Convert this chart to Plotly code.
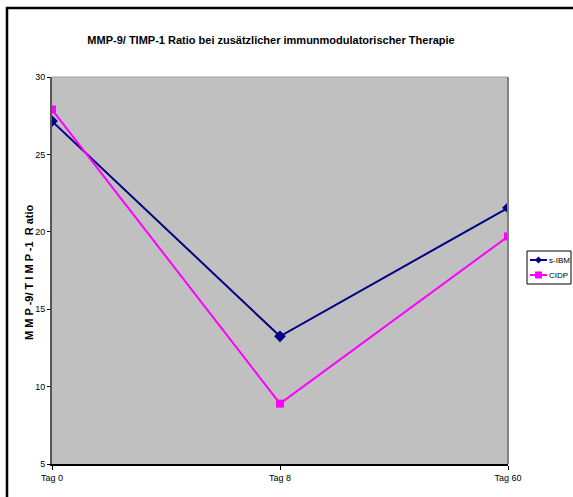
import plotly.graph_objects as go

categories = ["Tag 0", "Tag 8", "Tag 60"]
s_ibm = [27.15, 13.25, 21.55]
cidp = [27.9, 8.9, 19.7]
y_ticks = [5, 10, 15, 20, 25, 30]
series_names = ["s-IBM", "CIDP"]
series_colors = ["#000080", "#FF00FF"]

W, H = 573, 497
L, R, T, B = 52, 508, 77, 464
pw, ph = R - L, B - T

def px_x(x):
    return (x - L) / pw

def px_y(y):
    return (B - y) / ph

fig = go.Figure()
fig.add_trace(go.Scatter(x=categories, y=s_ibm, name=series_names[0], mode="lines+markers",
                         line=dict(color=series_colors[0], width=2),
                         marker=dict(symbol="diamond", size=9, color=series_colors[0])))
fig.add_trace(go.Scatter(x=categories, y=cidp, name=series_names[1], mode="lines+markers",
                         line=dict(color=series_colors[1], width=2),
                         marker=dict(symbol="square", size=8, color=series_colors[1])))

tickfont = dict(family="Liberation Sans Narrow, Arial Narrow, Liberation Sans, Arial", size=9, color="#000000")

shapes = [
    dict(type="rect", xref="paper", yref="paper",
         x0=px_x(7), x1=px_x(580), y0=px_y(8), y1=px_y(505),
         line=dict(color="#000000", width=2.5), fillcolor="rgba(0,0,0,0)", layer="above"),
    dict(type="line", xref="paper", yref="paper", x0=0, x1=1, y0=1, y1=1,
         line=dict(color="#A0A0A0", width=1)),
    dict(type="line", xref="paper", yref="paper", x0=1, x1=1, y0=0, y1=1,
         line=dict(color="#808080", width=2)),
    # custom legend box
    dict(type="rect", xref="paper", yref="paper",
         x0=px_x(527), x1=px_x(571), y0=px_y(251), y1=px_y(284),
         line=dict(color="#000000", width=1), fillcolor="white"),
]
annotations = [
    dict(text="<b>M M P -9/ T I M P -1  R atio</b>", xref="paper", yref="paper",
         x=px_x(29), y=px_y(272), textangle=-90, showarrow=False,
         xanchor="center", yanchor="middle",
         font=dict(family="Liberation Sans, Arial", size=11, color="#000000")),
]
# legend entries
for i, (nm, col) in enumerate(zip(series_names, series_colors)):
    yy = 260 + i * 15
    shapes.append(dict(type="line", xref="paper", yref="paper",
                       x0=px_x(530), x1=px_x(547), y0=px_y(yy), y1=px_y(yy),
                       line=dict(color=col, width=2)))
    cx, cy = 538.5, yy
    if i == 0:
        shapes.append(dict(type="path", xref="paper", yref="paper",
                           path=f"M {px_x(cx-3.5)} {px_y(cy)} L {px_x(cx)} {px_y(cy-3.5)} L {px_x(cx+3.5)} {px_y(cy)} L {px_x(cx)} {px_y(cy+3.5)} Z",
                           fillcolor=col, line=dict(color=col, width=0)))
    else:
        shapes.append(dict(type="rect", xref="paper", yref="paper",
                           x0=px_x(cx - 3.5), x1=px_x(cx + 3.5), y0=px_y(cy - 3.5), y1=px_y(cy + 3.5),
                           fillcolor=col, line=dict(color=col, width=0)))
    annotations.append(dict(text=nm, xref="paper", yref="paper", x=px_x(547), y=px_y(yy),
                            xanchor="left", yanchor="middle", showarrow=False,
                            font=dict(family="Liberation Sans Narrow, Arial Narrow, Liberation Sans, Arial",
                                      size=8, color="#000000")))

fig.update_layout(
    width=W, height=H,
    margin=dict(l=L, r=W - R, t=T, b=H - B, autoexpand=False),
    paper_bgcolor="white", plot_bgcolor="#C0C0C0",
    showlegend=False,
    title=dict(text="<b>MMP-9/ TIMP-1 Ratio bei zusätzlicher immunmodulatorischer Therapie</b>",
               x=px_x(271), xref="paper", xanchor="center", y=1 - 40 / H, yanchor="middle",
               font=dict(family="Liberation Sans, Arial", size=11, color="#000000")),
    xaxis=dict(type="category", range=[0, 2], showgrid=False, zeroline=False,
               showline=True, linecolor="#000000", linewidth=2,
               ticks="outside", ticklen=4, tickcolor="#000000", tickfont=tickfont),
    yaxis=dict(range=[5, 30], tickvals=y_ticks, showgrid=False, zeroline=False,
               showline=True, linecolor="#555555", linewidth=2,
               ticks="outside", ticklen=3, tickcolor="#000000", tickfont=tickfont),
    shapes=shapes,
    annotations=annotations,
)

fig.write_html("out.html")
